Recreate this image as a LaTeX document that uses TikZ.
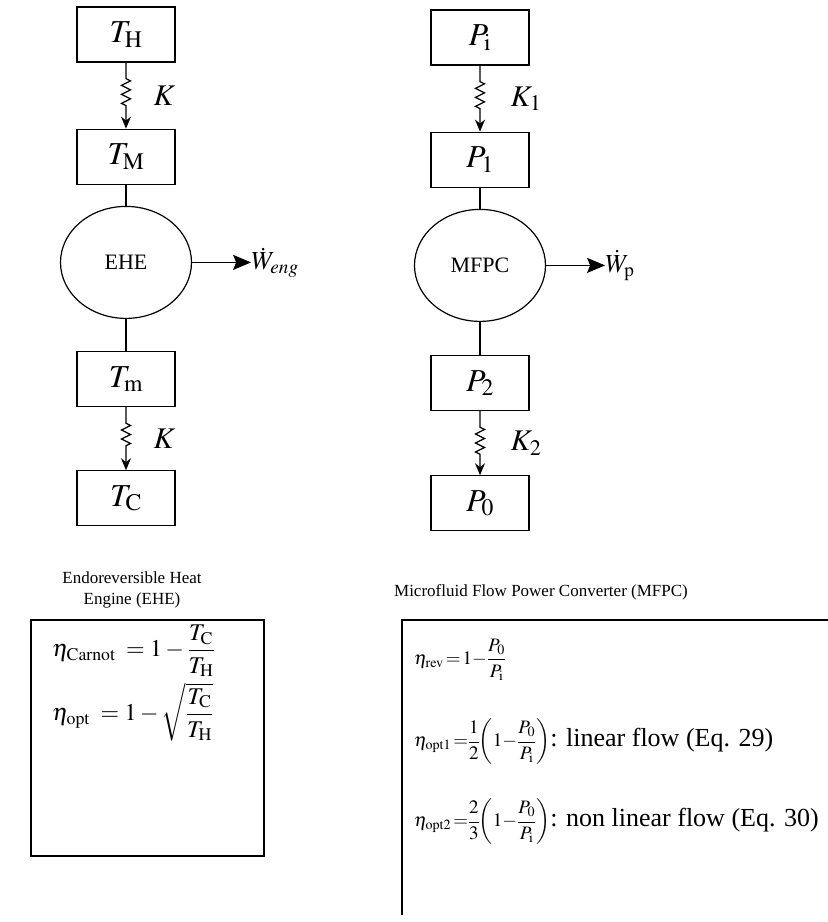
\documentclass[tikz,border=0pt]{standalone}
\usepackage{mathptmx}
\usepackage{fontspec}
\setmainfont{Liberation Serif}
\usepackage{tikz}
\usetikzlibrary{shapes.geometric,arrows.meta,positioning,decorations.pathmorphing}
\tikzset{
  node distance=21pt,
  st/.style  ={rectangle, draw=black, line width=1.2pt, minimum width=98pt,
               minimum height=55pt, inner sep=0pt, font=\fontsize{32}{36}\selectfont},
  conv/.style={ellipse, draw=black, line width=1.2pt, minimum width=131pt,
               minimum height=112pt, inner sep=0pt, font=\fontsize{22}{26}\selectfont},
  res/.style ={draw=black, line width=1.2pt, -{Stealth[length=12pt,width=10pt]},
               decorate, decoration={zigzag, segment length=9pt, amplitude=4.5pt,
               pre length=16pt, post length=21pt}},
  cn/.style  ={draw=black, line width=1.2pt},
  fl/.style  ={draw=black, line width=1.2pt, -{Stealth[length=18pt,width=15pt,inset=3pt]}},
  lbl/.style ={font=\fontsize{30}{34}\selectfont, inner sep=0pt},
  captxt/.style={font=\fontsize{17}{21}\selectfont, align=center},
  eq/.style  ={anchor=west, inner sep=0pt, font=\fontsize{24}{28}\selectfont},
  eqs/.style ={anchor=west, inner sep=0pt, font=\fontsize{19}{23}\selectfont},
  frame/.style={draw=black, line width=1.4pt},
}

\begin{document}
\begin{tikzpicture}[x=1pt,y=1pt]
  \useasboundingbox (0,0) rectangle (828,-922);
  % endoreversible heat engine
  \node[st] (th) at (126,-34.5) {$T_{\mathrm H}$};
  \node[st,below=66pt of th] (tm) {$T_{\mathrm M}$};
  \node[conv,below=of tm] (ehe) {EHE};
  \node[st,below=32pt of ehe] (tlo) {$T_{\mathrm m}$};
  \node[st,below=63pt of tlo] (tc) {$T_{\mathrm C}$};
  \node[lbl,font=\fontsize{26}{30}\selectfont,right=59pt of ehe] (weng) {$\dot W_{eng}$};
  \draw[res](th)--node[lbl,right=27pt]{$K$}(tm);
  \draw[cn](tm)--(ehe);\draw[cn](ehe)--(tlo);
  \draw[res](tlo)--node[lbl,right=27pt]{$K$}(tc);
  \draw[fl](ehe)--(weng);
  % microfluid flow power converter
  \node[st] (pi) at (480,-37.5) {$P_{\mathrm i}$};
  \node[st,below=66pt of pi] (p1) {$P_1$};
  \node[conv,below=of p1] (mfpc) {MFPC};
  \node[st,below=33pt of mfpc] (p2) {$P_2$};
  \node[st,below=64pt of p2] (p0) {$P_0$};
  \node[lbl,font=\fontsize{26}{30}\selectfont,right=59pt of mfpc] (wp) {$\dot W_{\mathrm p}$};
  \draw[res](pi)--node[lbl,right=30pt]{$K_1$}(p1);
  \draw[cn](p1)--(mfpc);\draw[cn](mfpc)--(p2);
  \draw[res](p2)--node[lbl,right=30pt]{$K_2$}(p0);
  \draw[fl](mfpc)--(wp);
  % captions
  \node[captxt] (capl) at (132,-590) {Endoreversible Heat\\Engine (EHE)};
  \node[captxt] (capr) at (541,-592) {Microfluid Flow Power Converter (MFPC)};
  % efficiencies
  \draw[frame](31,-620) rectangle (264,-856);
  \node[eq] (ecar) at (52,-651) {$\displaystyle\eta_{\mathrm{Carnot}}\;=1-\frac{T_{\mathrm C}}{T_{\mathrm H}}$};
  \node[eq] (eopt) at (52,-712) {$\displaystyle\eta_{\mathrm{opt}}\;=1-\sqrt{\frac{T_{\mathrm C}}{T_{\mathrm H}}}$};
  \draw[frame](828,-620)--(402,-620)--(402,-915);
  \node[eqs] (erev) at (414,-660) {$\displaystyle\eta_{\mathrm{rev}}\,{=}\,1{-}\frac{P_0}{P_{\mathrm i}}$};
  \node[eqs] (eop1) at (414,-742) {$\displaystyle\eta_{\mathrm{opt1}}\,{=}{\frac{1}{2}}\mkern-3mu\left(1{-}\frac{P_0}{P_{\mathrm i}}\right)$\fontsize{26}{31}\selectfont: linear flow (Eq. 29)};
  \node[eqs] (eop2) at (414,-822) {$\displaystyle\eta_{\mathrm{opt2}}\,{=}{\frac{2}{3}}\mkern-3mu\left(1{-}\frac{P_0}{P_{\mathrm i}}\right)$\fontsize{26}{31}\selectfont: non linear flow (Eq. 30)};
\end{tikzpicture}
\end{document}
